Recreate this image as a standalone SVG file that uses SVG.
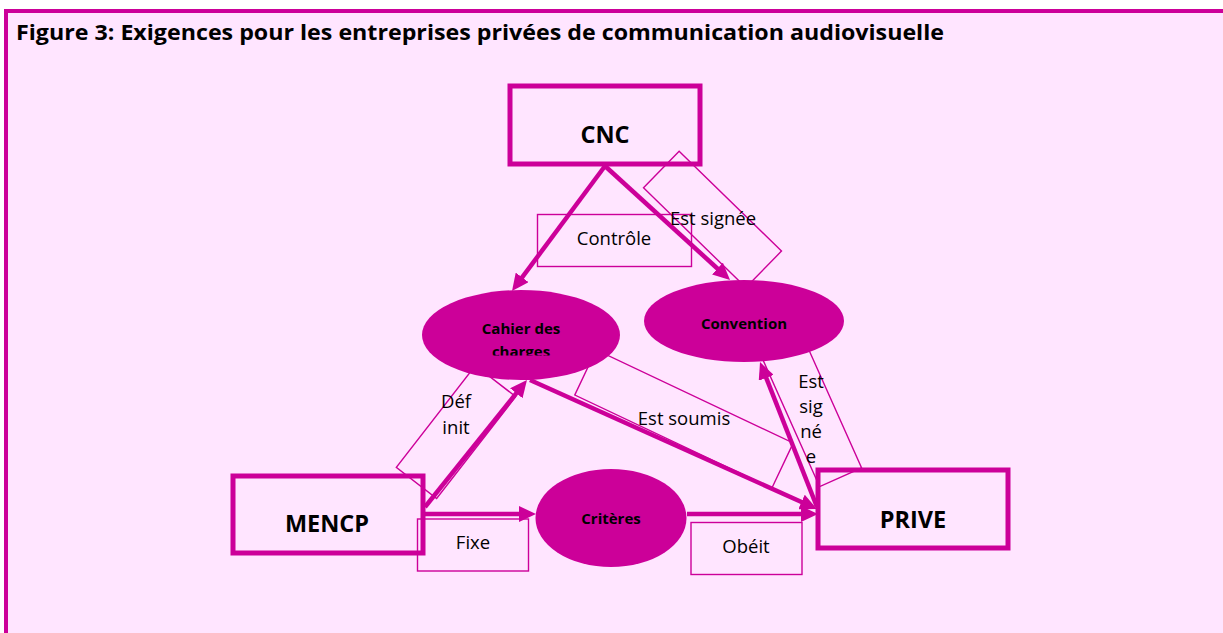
<svg xmlns="http://www.w3.org/2000/svg" width="1223" height="633" viewBox="0 0 1223 633">
  <style>
    .bg { fill: #FFE5FF; }
    .frame { fill: none; stroke: #CC0099; stroke-width: 4; }
    .title { font-family: "Open Sans", "Liberation Sans", sans-serif; font-weight: bold; font-size: 21px; fill: #000; }
    .box { fill: none; stroke: #CC0099; stroke-width: 5; }
    .boxtxt { font-family: "Open Sans", "Liberation Sans", sans-serif; font-weight: bold; font-size: 23.5px; fill: #000; text-anchor: middle; }
    .ell { fill: #CC0099; }
    .elltxt { font-family: "Open Sans", "Liberation Sans", sans-serif; font-weight: bold; font-size: 15px; fill: #000; text-anchor: middle; }
    .lbl { fill: none; stroke: #CC0099; stroke-width: 1.4; }
    .lbltxt { font-family: "Open Sans", "Liberation Sans", sans-serif; font-size: 18.5px; fill: #000; text-anchor: middle; }
    .conn { fill: none; stroke: #CC0099; stroke-width: 4.5; marker-end: url(#arrow); }
  </style>
  <defs>
    <marker id="arrow" markerUnits="userSpaceOnUse" markerWidth="17" markerHeight="16" refX="11" refY="8" orient="auto">
      <path d="M0,0 L17,8 L0,16 z" fill="#CC0099"/>
    </marker>
    <clipPath id="cahierClip">
      <rect x="420" y="300" width="200" height="55.5"/>
    </clipPath>
  </defs>

  <rect x="0" y="0" width="1223" height="633" fill="#FFFFFF"/>
  <rect class="bg" x="6" y="11" width="1217" height="622"/>
  <path class="frame" d="M6,633 V11 H1223"/>
  <text class="title" x="16" y="40" textLength="928" lengthAdjust="spacingAndGlyphs">Figure 3: Exigences pour les entreprises privées de communication audiovisuelle</text>

  <g id="label-boxes">
    <rect class="lbl" x="537.5" y="214.5" width="154" height="52"/>
    <rect class="lbl" x="-71.5" y="-25.5" width="143" height="51" transform="translate(712.5 219.4) rotate(44.3)"/>
    <rect class="lbl" x="-25.5" y="-64.5" width="51" height="129" transform="translate(456 432) rotate(37.8)"/>
    <rect class="lbl" x="-109" y="-25" width="218" height="50" transform="translate(684 419) rotate(25.3)"/>
    <rect class="lbl" x="-23" y="-72.5" width="46" height="145" transform="translate(811 411) rotate(-24.1)"/>
    <rect class="lbl" x="417.5" y="519" width="111" height="52"/>
    <rect class="lbl" x="691" y="522.5" width="111" height="52"/>
  </g>

  <g id="node-cnc">
    <rect class="box" x="510" y="86" width="190" height="78"/>
    <text class="boxtxt" x="605" y="143">CNC</text>
  </g>
  <g id="node-mencp">
    <rect class="box" x="233" y="476" width="190" height="77"/>
    <text class="boxtxt" x="327" y="532">MENCP</text>
  </g>
  <g id="node-prive">
    <rect class="box" x="818" y="470" width="190" height="78"/>
    <text class="boxtxt" x="913" y="528">PRIVE</text>
  </g>
  <g id="node-cahier">
    <ellipse class="ell" cx="521" cy="335" rx="99" ry="45"/>
    <g clip-path="url(#cahierClip)">
      <text class="elltxt" x="521" y="334">Cahier des</text>
      <text class="elltxt" x="521" y="357">charges</text>
    </g>
  </g>
  <g id="node-convention">
    <ellipse class="ell" cx="744" cy="321" rx="100" ry="41"/>
    <text class="elltxt" x="744" y="329">Convention</text>
  </g>
  <g id="node-criteres">
    <ellipse class="ell" cx="611" cy="518" rx="75.5" ry="49"/>
    <text class="elltxt" x="611" y="524">Critères</text>
  </g>

  <g id="connectors">
    <line class="conn" x1="605" y1="166" x2="515.6" y2="286.2"/>
    <line class="conn" x1="605" y1="166" x2="725.6" y2="276"/>
    <line class="conn" x1="425" y1="507" x2="523.2" y2="384.7"/>
    <line class="conn" x1="425" y1="514" x2="530" y2="514"/>
    <line class="conn" x1="687" y1="514" x2="812" y2="514"/>
    <line class="conn" x1="530" y1="380" x2="811.5" y2="506.5"/>
    <line class="conn" x1="817" y1="507" x2="762.2" y2="367.6"/>
  </g>

  <g id="label-texts">
    <text class="lbltxt" x="614" y="245">Contrôle</text>
    <text class="lbltxt" x="713" y="225">Est signée</text>
    <text class="lbltxt" x="456" y="408">Déf</text>
    <text class="lbltxt" x="456" y="434">init</text>
    <text class="lbltxt" x="684" y="425">Est soumis</text>
    <text class="lbltxt" x="811" y="388">Est</text>
    <text class="lbltxt" x="811" y="413">sig</text>
    <text class="lbltxt" x="811" y="438">né</text>
    <text class="lbltxt" x="811" y="463">e</text>
    <text class="lbltxt" x="473" y="549">Fixe</text>
    <text class="lbltxt" x="746" y="553">Obéit</text>
  </g>
</svg>
